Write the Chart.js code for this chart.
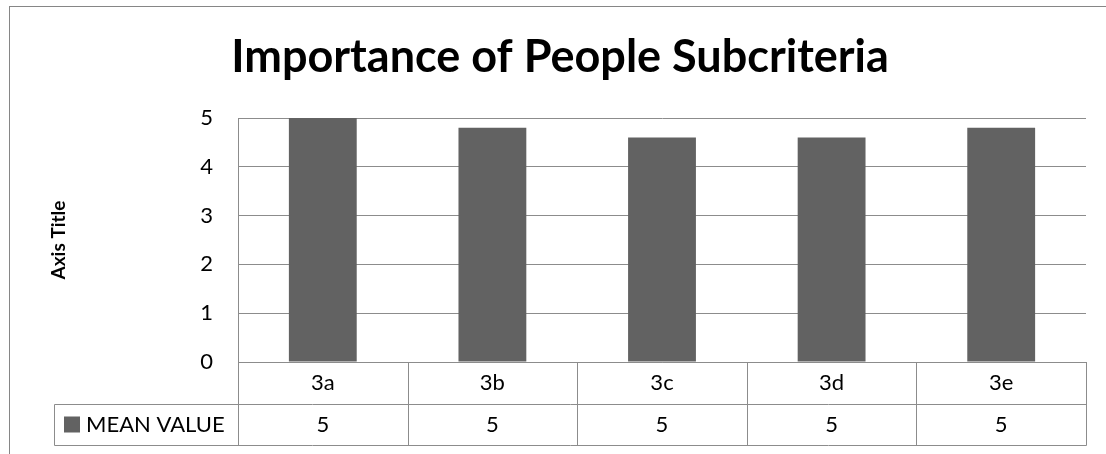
<!DOCTYPE html>
<html>
<head>
<meta charset="utf-8">
<script src="https://cdn.jsdelivr.net/npm/chart.js@4/dist/chart.umd.min.js"></script>
<style>
  html, body { margin: 0; padding: 0; background: #fff; }
  #wrap { width: 1106px; height: 454px; }
</style>
</head>
<body>
<div id="wrap"><canvas id="chart" width="1106" height="454"></canvas></div>
<script>
const categories = ['3a', '3b', '3c', '3d', '3e'];
const meanValues = [5, 4.8, 4.6, 4.6, 4.8];
const seriesName = 'MEAN VALUE';
const yTicks = [0, 1, 2, 3, 4, 5];

const FONT = 'Lato, "Open Sans", sans-serif';
const LINE = '#8c8c8c';
const BAR = '#626262';

// outer frame of the chart object (runs off the right/bottom edge)
const framePlugin = {
  id: 'frame',
  beforeDraw(chart) {
    const ctx = chart.ctx;
    ctx.save();
    ctx.fillStyle = '#fff';
    ctx.fillRect(0, 0, chart.width, chart.height);
    ctx.strokeStyle = '#868686';
    ctx.lineWidth = 1;
    ctx.strokeRect(9.5, 6.5, chart.width + 50, chart.height + 50);
    ctx.restore();
  }
};

// excel style data table under the plot
const dataTablePlugin = {
  id: 'dataTable',
  afterDraw(chart) {
    const { ctx, chartArea } = chart;
    const x = chart.scales.x;
    const rowTop = Math.round(chartArea.bottom) + 0.5;
    const rowMid = rowTop + 42;
    const rowBot = rowMid + 41;
    const headLeft = 54.5;
    const right = Math.round(chartArea.right) + 0.5;

    const edges = [Math.round(chartArea.left) + 0.5];
    for (let i = 0; i < categories.length - 1; i++) {
      const b = (x.getPixelForValue(i) + x.getPixelForValue(i + 1)) / 2;
      edges.push(Math.round(b) + 0.5);
    }
    edges.push(right);

    ctx.save();
    ctx.strokeStyle = LINE;
    ctx.lineWidth = 1;
    ctx.beginPath();
    ctx.moveTo(headLeft, rowMid); ctx.lineTo(right, rowMid);
    ctx.moveTo(headLeft, rowBot); ctx.lineTo(right, rowBot);
    ctx.moveTo(headLeft, rowMid); ctx.lineTo(headLeft, rowBot);
    edges.forEach((e) => { ctx.moveTo(e, rowTop); ctx.lineTo(e, rowBot); });
    ctx.stroke();

    // legend key + series name
    ctx.fillStyle = BAR;
    ctx.fillRect(64, rowMid + 12, 16, 16);
    ctx.fillStyle = '#000';
    ctx.font = '22px ' + FONT;
    ctx.textBaseline = 'middle';
    ctx.textAlign = 'left';
    ctx.fillText(seriesName, 86, rowMid + 20.5);

    // rounded values row
    ctx.textAlign = 'center';
    meanValues.forEach((v, i) => {
      ctx.fillText(v.toFixed(0), x.getPixelForValue(i), rowMid + 20.5);
    });
    ctx.restore();
  }
};

new Chart(document.getElementById('chart'), {
  type: 'bar',
  data: {
    labels: categories,
    datasets: [{
      label: seriesName,
      data: meanValues,
      backgroundColor: BAR,
      borderWidth: 0,
      barPercentage: 0.4,
      categoryPercentage: 1.0
    }]
  },
  options: {
    responsive: false,
    animation: false,
    devicePixelRatio: 1,
    layout: { padding: { left: 34, right: 20, top: 0, bottom: 0 } },
    plugins: {
      legend: { display: false },
      tooltip: { enabled: false },
      title: {
        display: true,
        text: 'Importance of People Subcriteria',
        color: '#000',
        font: { family: FONT, size: 45, weight: 'bold' },
        padding: { top: 30, bottom: 34 }
      }
    },
    scales: {
      x: {
        grid: { display: false, drawTicks: false },
        border: { display: true, color: LINE },
        ticks: { color: '#000', font: { family: FONT, size: 22 }, padding: 8 },
        afterFit(scale) { scale.height = 92; }
      },
      y: {
        min: 0,
        max: 5,
        afterBuildTicks(scale) { scale.ticks = yTicks.map((v) => ({ value: v })); },
        grid: { color: LINE, drawTicks: false },
        border: { display: true, color: LINE },
        ticks: { color: '#000', font: { family: FONT, size: 22 }, padding: 25 },
        title: {
          display: true,
          text: 'Axis Title',
          color: '#000',
          font: { family: FONT, size: 19, weight: 'bold' },
          padding: { top: 13, bottom: 0 }
        },
        afterFit(scale) { scale.width = 204; }
      }
    }
  },
  plugins: [framePlugin, dataTablePlugin]
});
</script>
</body>
</html>
